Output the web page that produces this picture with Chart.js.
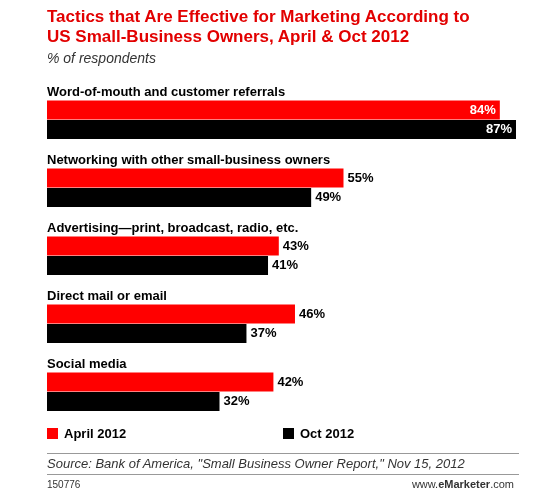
<!DOCTYPE html><html><head><meta charset="utf-8">
<script src="https://cdn.jsdelivr.net/npm/chart.js@4"></script>
<style>
body{margin:0;width:550px;height:494px;position:relative;font-family:Arial,"Liberation Sans",sans-serif;background:#fff;overflow:hidden}
#c{position:absolute;left:0;top:0}
.t{position:absolute;left:47px;top:7px;color:#e20000;font-weight:bold;font-size:17px;line-height:20px}
.s{position:absolute;left:47px;top:50px;font-style:italic;font-size:14px;color:#333}
.lg{position:absolute;top:426px;font-weight:bold;font-size:13px}
.lg span{display:inline-block;width:11px;height:11px;margin-right:6px;vertical-align:-1px}
.src{position:absolute;left:47px;top:453px;width:472px;border-top:1px solid #999;border-bottom:1px solid #999;font-style:italic;font-size:13px;padding:2px 0 3px;color:#333}
.id{position:absolute;left:47px;top:479px;font-size:10px;color:#333}
.em{position:absolute;right:36px;top:478px;font-size:11px;color:#333}
</style></head><body>
<canvas id="c" width="550" height="494"></canvas>
<div class="t">Tactics that Are Effective for Marketing According to<br>US Small-Business Owners, April &amp; Oct 2012</div>
<div class="s">% of respondents</div>
<div class="lg" style="left:47px"><span style="background:#ff0000"></span>April 2012</div>
<div class="lg" style="left:283px"><span style="background:#000"></span>Oct 2012</div>
<div class="src">Source: Bank of America, "Small Business Owner Report," Nov 15, 2012</div>
<div class="id">150776</div>
<div class="em">www.<b>eMarketer</b>.com</div>
<script>
const categories=["Word-of-mouth and customer referrals","Networking with other small-business owners","Advertising—print, broadcast, radio, etc.","Direct mail or email","Social media"];
const april=[84,55,43,46,42];
const oct=[87,49,41,37,32];
const labelPlugin={id:'lbl',afterDatasetsDraw(ch){
 const c=ch.ctx;c.save();c.font='bold 13px Arial, "Liberation Sans"';c.textBaseline='middle';
 const sp=ch.getDatasetMeta(0);
 sp.data.forEach((b,i)=>{c.fillStyle='#000';c.textAlign='left';c.fillText(categories[i],ch.chartArea.left,b.y+2);});
 [1,2].forEach(d=>{ch.getDatasetMeta(d).data.forEach((b,i)=>{const v=ch.data.datasets[d].data[i];
  if(v>=80){c.fillStyle='#fff';c.textAlign='right';c.fillText(v+'%',b.x-4,b.y);}
  else{c.fillStyle='#000';c.textAlign='left';c.fillText(v+'%',b.x+4,b.y);}});});
 c.restore();}};
new Chart(document.getElementById('c'),{type:'bar',
data:{labels:categories,datasets:[
 {data:categories.map(()=>0),backgroundColor:'transparent'},
 {data:april,backgroundColor:'#ff0000'},
 {data:oct,backgroundColor:'#000'}]},
options:{indexAxis:'y',responsive:false,animation:false,
 layout:{padding:{left:47,right:34,top:76,bottom:78}},
 plugins:{legend:{display:false},tooltip:{enabled:false}},
 datasets:{bar:{categoryPercentage:0.86,barPercentage:0.98}},
 scales:{x:{display:false,min:0,max:87},y:{display:false}}},
plugins:[labelPlugin]});
</script></body></html>
